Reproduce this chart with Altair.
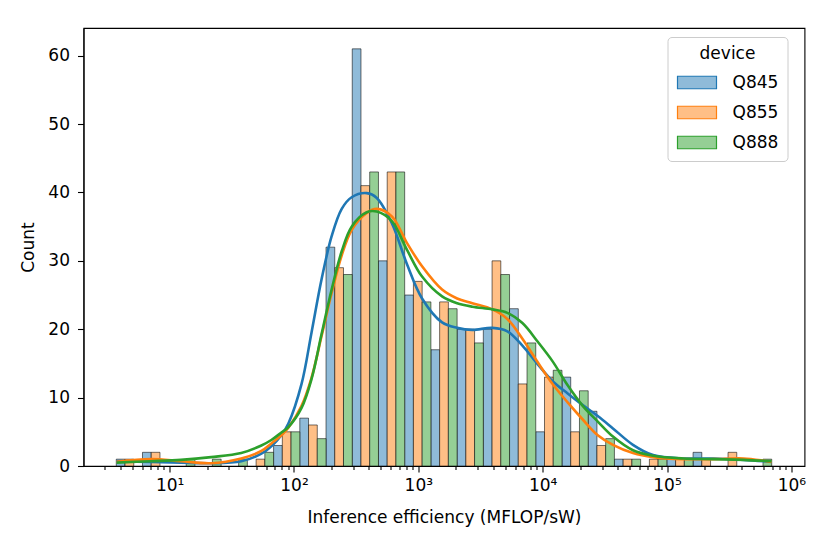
import altair as alt
import pandas as pd

devices = ["Q845", "Q855", "Q888"]
bar_colors = ["#8fbbd9", "#ffbf86", "#95cf95"]
line_colors = ["#1f77b4", "#ff7f0e", "#2ca02c"]

# histogram: 25 equal bins in log10 space between smallest and largest observation
log_min = 0.571
log_max = 5.842
n_bins = 25
counts_q845 = [1, 2, 0, 0, 0, 0, 3, 7, 32, 61, 30, 25, 17, 20, 20, 23, 5, 13, 8, 1, 0, 1, 2, 0, 0]
counts_q855 = [1, 2, 0, 0, 0, 1, 5, 6, 29, 41, 43, 27, 24, 20, 30, 12, 13, 5, 3, 1, 1, 1, 1, 2, 0]
counts_q888 = [0, 0, 1, 1, 1, 2, 5, 4, 28, 43, 43, 24, 23, 18, 28, 18, 14, 11, 4, 1, 1, 1, 0, 0, 1]

# KDE curves (x as log10 of efficiency, y in counts)
kde_exp = [0.574, 0.849, 1.091, 1.334, 1.576, 1.738, 1.818, 1.899, 1.955, 2.061, 2.141, 2.222,
           2.303, 2.384, 2.464, 2.585, 2.666, 2.787, 2.909, 3.030, 3.191, 3.312, 3.434, 3.595,
           3.716, 3.837, 3.959, 4.080, 4.201, 4.322, 4.443, 4.565, 4.726, 4.888, 5.130, 5.372,
           5.615, 5.841]
kde_q845 = [0.7, 0.6, 0.5, 0.4, 0.7, 1.8, 2.9, 4.5, 6.2, 12.0, 19.5, 27.3, 33.6, 37.6, 39.3, 39.9,
            39.2, 35.5, 29.5, 24.5, 21.0, 20.2, 19.9, 20.2, 19.7, 17.6, 14.9, 12.4, 10.6, 8.9, 7.3,
            5.5, 3.1, 1.6, 1.1, 1.1, 0.9, 0.6]
kde_q855 = [0.6, 1.0, 0.7, 0.4, 1.1, 2.2, 3.3, 4.5, 5.6, 8.8, 12.9, 19.0, 25.3, 30.8, 34.5, 37.0,
            37.6, 36.5, 32.6, 29.2, 25.8, 24.5, 23.8, 22.9, 21.5, 18.6, 15.2, 12.0, 9.3, 6.8, 4.5,
            3.1, 1.9, 1.3, 1.0, 1.0, 1.1, 0.6]
kde_q888 = [0.5, 0.7, 0.9, 1.3, 1.9, 3.0, 3.8, 4.9, 5.7, 8.5, 12.7, 19.3, 25.8, 31.4, 35.0, 37.1,
            37.2, 35.8, 31.6, 27.7, 24.8, 23.8, 23.3, 22.9, 22.4, 20.9, 18.2, 15.3, 11.8, 8.8, 6.5,
            4.3, 2.3, 1.5, 1.1, 1.0, 0.9, 0.7]

y_ticks = [0, 10, 20, 30, 40, 50, 60]
y_max = 64.05

# ---- build tables ----
w = (log_max - log_min) / n_bins
rows = []
for j, (dev, cnts) in enumerate(zip(devices, [counts_q845, counts_q855, counts_q888])):
    for k, c in enumerate(cnts):
        if c == 0:
            continue
        lo = log_min + k * w + j * w / 3
        rows.append({"device": dev, "x": 10 ** lo, "x2": 10 ** (lo + w / 3), "count": c, "base": 0})
df_bars = pd.DataFrame(rows)

krows = []
for dev, ys in zip(devices, [kde_q845, kde_q855, kde_q888]):
    for e, v in zip(kde_exp, ys):
        krows.append({"device": dev, "x": 10 ** e, "y": v})
df_kde = pd.DataFrame(krows)

margin = 0.05 * (log_max - log_min)
x_domain = [10 ** (log_min - margin), 10 ** (log_max + margin)]

x_ticks = []
for e in range(0, 6):
    for m in range(1, 10):
        v = m * 10 ** e
        if 3 <= v <= 1e6:
            x_ticks.append(v)
x_ticks.append(1e6)

is_major = "abs(log(datum.value)/LN10 - round(log(datum.value)/LN10)) < 0.001"
x_axis = alt.Axis(
    title="Inference efficiency (MFLOP/sW)",
    values=x_ticks,
    labelExpr=f"({is_major}) ? '10' + substring('⁰¹²³⁴⁵⁶', round(log(datum.value)/LN10), round(log(datum.value)/LN10) + 1) : ''",
    tickSize={"condition": {"test": is_major, "value": 6}, "value": 3.5},
    labelOverlap=False,
    labelFlush=False,
    labelPadding=5,
    titlePadding=16,
    grid=False,
)
y_axis = alt.Axis(title="Count", values=y_ticks, tickSize=6, labelPadding=8, titlePadding=10, grid=False)

x_scale = alt.Scale(type="log", domain=x_domain, nice=False)
y_scale = alt.Scale(domain=[0, y_max], nice=False, zero=True)

bars = alt.Chart(df_bars).mark_bar(stroke="black", strokeOpacity=0.55, strokeWidth=1.0).encode(
    x=alt.X("x:Q", scale=x_scale, axis=x_axis),
    x2="x2:Q",
    y=alt.Y("count:Q", stack=None, scale=y_scale, axis=y_axis),
    y2="base:Q",
    fill=alt.Fill(
        "device:N",
        scale=alt.Scale(domain=devices, range=bar_colors),
        legend=alt.Legend(
            title="device",
            orient="none",
            legendX=584,
            legendY=9,
            direction="vertical",
            symbolType="M-1,-0.32H1V0.32H-1Z",
            symbolSize=1521,
            symbolStrokeColor="#555555",
            symbolStrokeWidth=1.2,
            labelFontSize=17,
            labelOffset=15,
            titleFontSize=17,
            titleFontWeight="normal",
            titleAnchor="middle",
            titlePadding=-1,
            rowPadding=-15,
            padding=9,
            strokeColor="#cccccc",
            cornerRadius=4,
            fillColor="rgba(255,255,255,0.8)",
        ),
    ),
)

lines = alt.Chart(df_kde).mark_line(strokeWidth=2.6, interpolate="catmull-rom").encode(
    x=alt.X("x:Q", scale=x_scale, axis=x_axis),
    y=alt.Y("y:Q", scale=y_scale, axis=y_axis),
    stroke=alt.Stroke("device:N", scale=alt.Scale(domain=devices, range=line_colors), legend=None),
)

chart = alt.layer(bars, lines).properties(
    width=721,
    height=438,
    autosize=alt.AutoSizeParams(type="none"),
    padding={"left": 75.5, "top": 20, "right": 17.5, "bottom": 78},
).configure(
    font="DejaVu Sans",
).configure_view(
    stroke="black", strokeWidth=1.1
).configure_axis(
    labelFont="DejaVu Sans",
    titleFont="DejaVu Sans",
    labelFontSize=17,
    titleFontSize=17,
    titleFontWeight="normal",
    labelColor="black",
    titleColor="black",
    tickColor="black",
    domainColor="black",
    tickWidth=1.1,
    domainWidth=1.1,
).configure_legend(
    labelFont="DejaVu Sans",
    titleFont="DejaVu Sans",
    labelColor="black",
    titleColor="black",
)

chart.save("out.html", embed_options={"renderer": "svg", "actions": False})
